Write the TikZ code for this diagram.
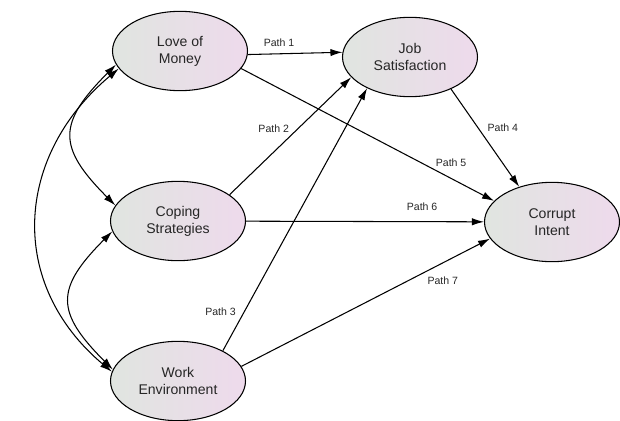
\documentclass[tikz,border=0pt]{standalone}
\usepackage{fontspec}
\setmainfont{Liberation Sans}
\usetikzlibrary{arrows.meta}
\usetikzlibrary{shapes.geometric}
\definecolor{leftfill}{RGB}{224,229,224}
\definecolor{rightfill}{RGB}{238,218,236}
\tikzset{
	latent/.style={ellipse, draw, line width=0.9pt, left color=leftfill, right color=rightfill,
		minimum width=4.05cm, minimum height=2.38cm, inner sep=0pt, align=center,
		text=black!85, font=\fontsize{12}{14.5}\selectfont},
	pathlab/.style={font=\fontsize{9}{11}\selectfont, inner sep=1pt, text=black!85}
}

\begin{document}
\begin{tikzpicture}[>={Latex[length=3.6mm,width=2.2mm]}, line width=0.9pt]
					\useasboundingbox (0,0) rectangle (18.6,12.6);
					\node[latent] (love) at (5.40,11.07) {Love of\\Money};
					\node[latent] (job) at (12.30,10.89) {Job\\Satisfaction};
					\node[latent] (coping) at (5.34,5.97) {Coping\\Strategies};
					\node[latent] (work) at (5.34,1.17) {Work\\Environment};
					\node[latent] (corrupt) at (16.56,5.94) {Corrupt\\Intent};
					% direct paths
					\draw[->] (love.-3) -- (job.176) node[pathlab, pos=0.33, above=4.5pt] {Path 1};
					\draw[->] (coping.27) -- (job.199) node[pathlab, pos=0.565, left=6.5pt] {Path 2};
					\draw[->] (work.34) -- (job.216) node[pathlab, pos=0.15, left=6pt] {Path 3};
					\draw[->] (job.-38) -- (corrupt.133) node[pathlab, pos=0.4, right=6.5pt] {Path 4};
					\draw[->] (love.-16) -- (corrupt.160) node[pathlab, pos=0.83, above=9pt] {Path 5};
					\draw[->] (coping) -- (corrupt) node[pathlab, pos=0.74, above=8pt] {Path 6};
					\draw[->] (work.13) -- (corrupt.195) node[pathlab, pos=0.81, below=10.5pt] {Path 7};
					% correlations
					\draw[<->] (love.192) to[out=225, in=135, looseness=1.5] (coping.166);
					\draw[<->] (coping.189) to[out=225, in=135, looseness=1.5] (work.170);
					\draw[<->] (love.196) to[out=220, in=140, looseness=1.15] (work.172);
\end{tikzpicture}
\end{document}
